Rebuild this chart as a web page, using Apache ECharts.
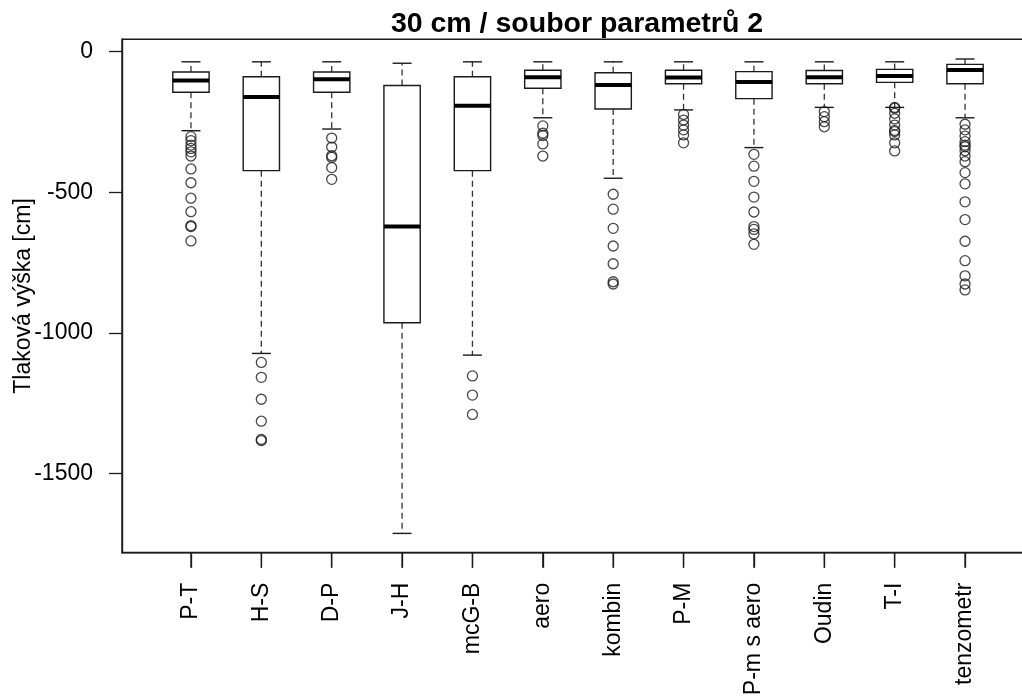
<!DOCTYPE html>
<html>
<head>
<meta charset="utf-8">
<script src="https://cdn.jsdelivr.net/npm/echarts@6/dist/echarts.min.js"></script>
<style>
  html, body { margin: 0; padding: 0; background: #ffffff; }
  #chart { width: 1022px; height: 697px; }
</style>
</head>
<body>
<div id="chart"></div>
<script>
// Pressure head at 30 cm depth, parameter set 2 — box-and-whisker summary per method
const categories = ['P-T', 'H-S', 'D-P', 'J-H', 'mcG-B', 'aero', 'kombin', 'P-M', 'P-m s aero', 'Oudin', 'T-I', 'tenzometr'];

// five-number summaries (cm), from the top of each box downwards
const whiskerHigh = [-36, -36, -36, -41, -36, -36, -36, -36, -36, -36, -36, -26];
const hingeHigh   = [-72, -89, -72, -120, -89, -66, -75, -66, -71, -67, -63, -45];
const medians     = [-102, -161, -98, -622, -192, -91, -118, -92, -108, -91, -86, -65];
const hingeLow    = [-144, -423, -144, -964, -423, -130, -204, -114, -167, -114, -109, -114];
const whiskerLow  = [-281, -1073, -275, -1713, -1079, -235, -450, -207, -341, -198, -198, -235];

// values beyond the whiskers
const outliers = [
  [-302, -316, -332, -344, -356, -371, -417, -466, -521, -569, -619, -622, -673],
  [-1105, -1158, -1236, -1314, -1379, -1383],
  [-307, -339, -370, -376, -412, -454],
  [],
  [-1153, -1221, -1290],
  [-264, -290, -298, -328, -371],
  [-507, -560, -628, -691, -754, -818, -826],
  [-223, -243, -261, -278, -296, -324],
  [-365, -407, -461, -517, -570, -622, -632, -648, -685],
  [-213, -231, -249, -267],
  [-198, -201, -219, -239, -261, -280, -284, -296, -324, -353],
  [-258, -278, -300, -320, -332, -338, -352, -371, -391, -430, -470, -534, -597, -674, -743, -797, -826, -847]
];

const yTicks = [0, -500, -1000, -1500];
const xTicks = categories.map((c, i) => i + 1);

const FONT = '"Liberation Sans", Arial, sans-serif';
const INK = '#1a1a1a';
const X_TICK_LEN = 15;

const boxData = categories.map((c, i) => [i + 1, whiskerHigh[i], hingeHigh[i], medians[i], hingeLow[i], whiskerLow[i]]);
const outlierData = [];
outliers.forEach((list, i) => list.forEach(v => outlierData.push([i + 1, v])));

function renderBox(params, api) {
  const pos = api.value(0);
  const x = api.coord([pos, 0])[0];
  const unit = api.size([1, 0])[0];
  const halfBox = unit * 0.258;
  const halfCap = unit * 0.135;
  const yWH = api.coord([pos, api.value(1)])[1];
  const yHH = api.coord([pos, api.value(2)])[1];
  const yMed = api.coord([pos, api.value(3)])[1];
  const yHL = api.coord([pos, api.value(4)])[1];
  const yWL = api.coord([pos, api.value(5)])[1];
  const axisY = params.coordSys.y + params.coordSys.height;
  const dashed = { stroke: '#333', lineWidth: 1.3, lineDash: [6, 4] };
  const solid = { stroke: INK, lineWidth: 1.4 };
  return {
    type: 'group',
    children: [
      // category tick below the frame
      { type: 'line', shape: { x1: x, y1: axisY, x2: x, y2: axisY + X_TICK_LEN }, style: { stroke: INK, lineWidth: 1.3 } },
      { type: 'line', shape: { x1: x, y1: yHH, x2: x, y2: yWH }, style: dashed },
      { type: 'line', shape: { x1: x, y1: yHL, x2: x, y2: yWL }, style: dashed },
      { type: 'line', shape: { x1: x - halfCap, y1: yWH, x2: x + halfCap, y2: yWH }, style: solid },
      { type: 'line', shape: { x1: x - halfCap, y1: yWL, x2: x + halfCap, y2: yWL }, style: solid },
      { type: 'rect', shape: { x: x - halfBox, y: yHH, width: 2 * halfBox, height: yHL - yHH },
        style: { fill: '#ffffff', stroke: INK, lineWidth: 1.4 } },
      { type: 'line', shape: { x1: x - halfBox, y1: yMed, x2: x + halfBox, y2: yMed },
        style: { stroke: '#000', lineWidth: 4 } }
    ]
  };
}

const chart = echarts.init(document.getElementById('chart'), null, { renderer: 'canvas' });
chart.setOption({
  animation: false,
  backgroundColor: '#ffffff',
  grid: {
    left: 122, top: 39.3, width: 912, height: 513.4,
    show: true, borderColor: INK, borderWidth: 1.4, backgroundColor: 'transparent',
    containLabel: false, outerBoundsMode: 'none'
  },
  xAxis: {
    type: 'value', min: 0.02, max: 12.98, position: 'bottom',
    axisLine: { show: true, onZero: false, lineStyle: { color: INK, width: 1.4 } },
    splitLine: { show: false },
    axisTick: { show: true, inside: false, length: X_TICK_LEN, customValues: xTicks,
      lineStyle: { color: INK, width: 1.3 } },
    axisLabel: {
      customValues: xTicks,
      rotate: 90, margin: 30,
      fontFamily: FONT, fontSize: 23, color: '#000',
      formatter: v => categories[Math.round(v) - 1]
    }
  },
  yAxis: {
    type: 'value', min: -1781.6, max: 44.1, position: 'left',
    axisLine: { show: true, onZero: false, lineStyle: { color: INK, width: 1.4 } },
    splitLine: { show: false },
    axisTick: { show: true, inside: false, length: 13, customValues: yTicks,
      lineStyle: { color: INK, width: 1.3 } },
    axisLabel: {
      customValues: yTicks, margin: 29,
      fontFamily: FONT, fontSize: 23, color: '#000',
      padding: [7, 0, 0, 0],
      formatter: v => String(v)
    }
  },
  graphic: [
    { type: 'text', x: 577, y: 24.5,
      style: { text: '30 cm / soubor parametrů 2', fill: '#000', font: 'bold 28.5px ' + FONT,
        textAlign: 'center', textVerticalAlign: 'middle' } },
    { type: 'text', x: 24, y: 296, rotation: Math.PI / 2,
      style: { text: 'Tlaková výška [cm]', fill: '#000', font: '23px ' + FONT,
        textAlign: 'center', textVerticalAlign: 'middle' } }
  ],
  series: [
    {
      type: 'custom',
      renderItem: renderBox,
      data: boxData,
      encode: { x: 0, y: [1, 2, 3, 4, 5] },
      clip: false,
      z: 2
    },
    {
      type: 'scatter',
      data: outlierData,
      symbol: 'circle',
      symbolSize: 10,
      itemStyle: { color: 'rgba(0,0,0,0)', borderColor: INK, borderWidth: 1.3 },
      z: 3
    }
  ]
});
</script>
</body>
</html>
